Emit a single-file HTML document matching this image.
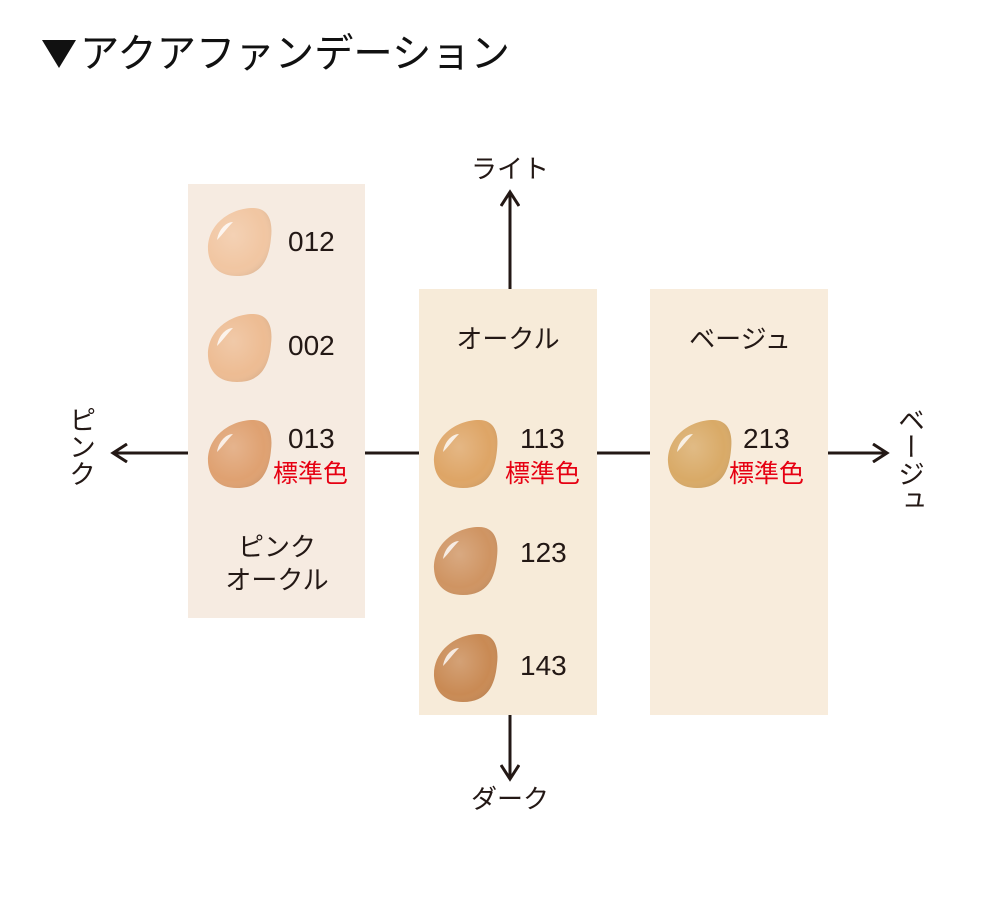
<!DOCTYPE html>
<html><head><meta charset="utf-8"><style>
body{margin:0;background:#fff;width:1000px;height:913px;overflow:hidden;font-family:"Liberation Sans","Noto Sans CJK JP",sans-serif}
</style></head><body>
<svg width="1000" height="913" viewBox="0 0 1000 913" xmlns="http://www.w3.org/2000/svg" font-family="Liberation Sans, Noto Sans CJK JP, sans-serif">
<defs>
<radialGradient id="sh" cx="0.4" cy="0.4" r="0.7">
<stop offset="0" stop-color="#fff" stop-opacity="0.2"/>
<stop offset="0.7" stop-color="#fff" stop-opacity="0"/>
<stop offset="1" stop-color="#000" stop-opacity="0.12"/>
</radialGradient>
<g id="drop">
<path d="M-31,8 C-32,-18 -8,-34 14,-34 C30,-34 34,-20 32,-4 C30,18 22,34 -2,34 C-20,34 -30,24 -31,8Z"/>
</g>
<marker id="ah" viewBox="0 0 20 20" refX="17" refY="10" markerWidth="20" markerHeight="20" markerUnits="userSpaceOnUse" orient="auto">
<path d="M3,1 L17,10 L3,19" fill="none" stroke="#231815" stroke-width="3"/>
</marker>
</defs>
<path d="M42,40 L76,40 L59,68 Z" fill="#111"/>
<text x="80" y="67" font-size="40" font-weight="normal" fill="#111" textLength="430" lengthAdjust="spacingAndGlyphs">アクアファンデーション</text>
<rect x="188" y="184" width="177" height="434" fill="#f6ebe1"/>
<rect x="419" y="289" width="178" height="426" fill="#f7ebd9"/>
<rect x="650" y="289" width="178" height="426" fill="#f8ecdc"/>
<g stroke="#231815" stroke-width="3" fill="none">
<line x1="188" y1="453" x2="113" y2="453" marker-end="url(#ah)"/>
<line x1="365" y1="453" x2="419" y2="453"/>
<line x1="597" y1="453" x2="650" y2="453"/>
<line x1="828" y1="453" x2="887" y2="453" marker-end="url(#ah)"/>
<line x1="510" y1="289" x2="510" y2="192" marker-end="url(#ah)"/>
<line x1="510" y1="715" x2="510" y2="779" marker-end="url(#ah)"/>
</g>
<g>
<g transform="translate(239,242)"><use href="#drop" fill="#f1c6a2"/><use href="#drop" fill="url(#sh)"/><path d="M-22,-2 C-20,-14 -12,-20 -6,-20 C-12,-14 -16,-8 -22,-2Z" fill="#fff" opacity="0.8"/></g>
<g transform="translate(239,348)"><use href="#drop" fill="#edbc93"/><use href="#drop" fill="url(#sh)"/><path d="M-22,-2 C-20,-14 -12,-20 -6,-20 C-12,-14 -16,-8 -22,-2Z" fill="#fff" opacity="0.8"/></g>
<g transform="translate(239,454)"><use href="#drop" fill="#dfa171"/><use href="#drop" fill="url(#sh)"/><path d="M-22,-2 C-20,-14 -12,-20 -6,-20 C-12,-14 -16,-8 -22,-2Z" fill="#fff" opacity="0.8"/></g>
<g transform="translate(465,454)"><use href="#drop" fill="#dea566"/><use href="#drop" fill="url(#sh)"/><path d="M-22,-2 C-20,-14 -12,-20 -6,-20 C-12,-14 -16,-8 -22,-2Z" fill="#fff" opacity="0.8"/></g>
<g transform="translate(465,561)"><use href="#drop" fill="#cf9462"/><use href="#drop" fill="url(#sh)"/><path d="M-22,-2 C-20,-14 -12,-20 -6,-20 C-12,-14 -16,-8 -22,-2Z" fill="#fff" opacity="0.8"/></g>
<g transform="translate(465,668)"><use href="#drop" fill="#c98a54"/><use href="#drop" fill="url(#sh)"/><path d="M-22,-2 C-20,-14 -12,-20 -6,-20 C-12,-14 -16,-8 -22,-2Z" fill="#fff" opacity="0.8"/></g>
<g transform="translate(699,454)"><use href="#drop" fill="#d9aa67"/><use href="#drop" fill="url(#sh)"/><path d="M-22,-2 C-20,-14 -12,-20 -6,-20 C-12,-14 -16,-8 -22,-2Z" fill="#fff" opacity="0.8"/></g>
</g>
<g font-size="28" fill="#231815">
<text x="288" y="251">012</text>
<text x="288" y="355">002</text>
<text x="288" y="448">013</text>
<text x="520" y="448">113</text>
<text x="520" y="562">123</text>
<text x="520" y="675">143</text>
<text x="743" y="448">213</text>
</g>
<g font-size="25" fill="#e60012">
<text x="273" y="482">標準色</text>
<text x="505" y="482">標準色</text>
<text x="729" y="482">標準色</text>
</g>
<g font-size="26" fill="#231815" text-anchor="middle">
<text x="508" y="348">オークル</text>
<text x="740" y="348">ベージュ</text>
<text x="277" y="556">ピンク</text>
<text x="277" y="589">オークル</text>
<text x="510" y="178">ライト</text>
<text x="510" y="808">ダーク</text>
</g>
<text x="80" y="406" font-size="27" fill="#231815" style="writing-mode:vertical-rl" text-anchor="start">ピンク</text>
<text x="909" y="406" font-size="27" fill="#231815" style="writing-mode:vertical-rl" text-anchor="start">ベージュ</text>
</svg>
</body></html>
